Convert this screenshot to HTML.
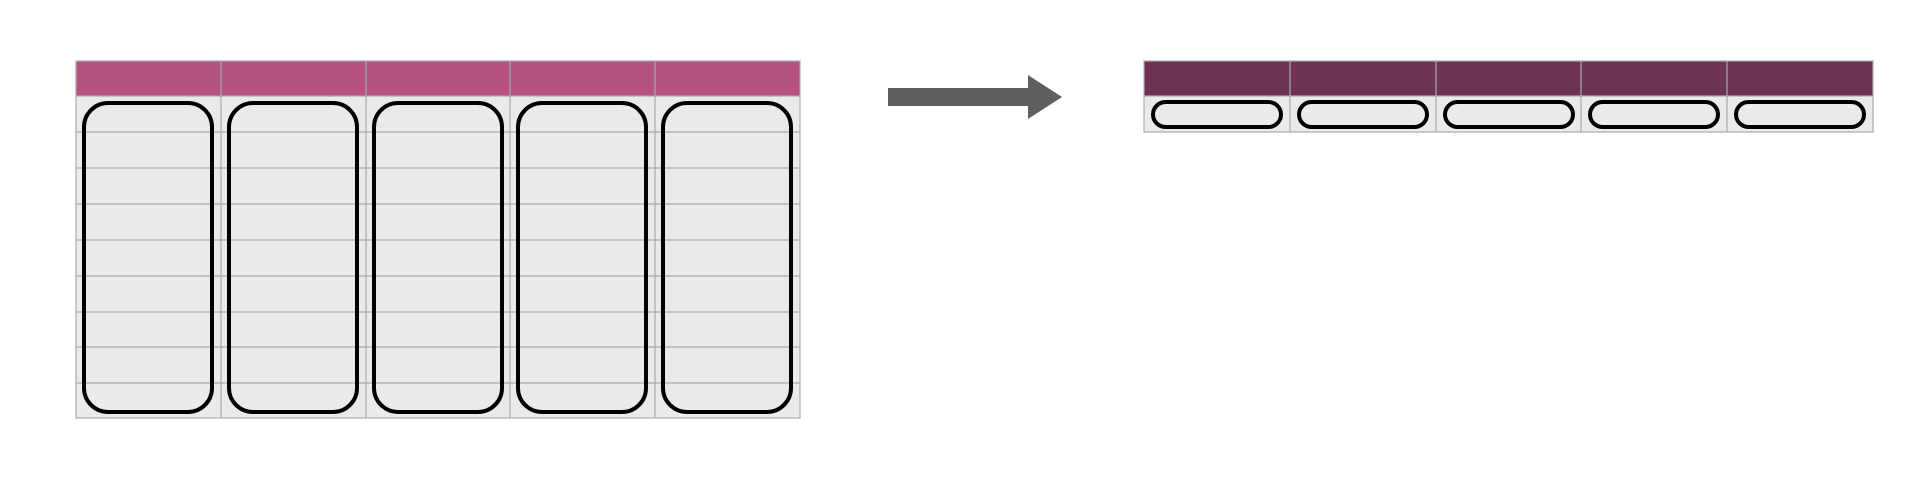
<!DOCTYPE html>
<html><head><meta charset="utf-8"><style>html,body{margin:0;padding:0;background:#fff}</style></head>
<body>
<svg width="1920" height="475" viewBox="0 0 1920 475" xmlns="http://www.w3.org/2000/svg">
<rect width="1920" height="475" fill="#fff"/>
<!-- left table -->
<rect x="76" y="96" width="724" height="322" fill="#eaeaea"/>
<rect x="76" y="61" width="724" height="35" fill="#b55083"/>
<g stroke="#aaa" stroke-width="1.2" fill="none">
<rect x="76" y="61" width="724" height="357"/>
<line x1="76" y1="96" x2="800" y2="96"/>
<line x1="76" y1="132" x2="800" y2="132"/>
<line x1="76" y1="168" x2="800" y2="168"/>
<line x1="76" y1="204" x2="800" y2="204"/>
<line x1="76" y1="240" x2="800" y2="240"/>
<line x1="76" y1="276" x2="800" y2="276"/>
<line x1="76" y1="312" x2="800" y2="312"/>
<line x1="76" y1="347" x2="800" y2="347"/>
<line x1="76" y1="383" x2="800" y2="383"/>
<line x1="221" y1="61" x2="221" y2="418"/>
<line x1="366" y1="61" x2="366" y2="418"/>
<line x1="510" y1="61" x2="510" y2="418"/>
<line x1="655" y1="61" x2="655" y2="418"/>
</g>
<g stroke="#000" stroke-width="4" fill="none">
<rect x="84" y="103" width="128" height="309" rx="24"/>
<rect x="229" y="103" width="128" height="309" rx="24"/>
<rect x="374" y="103" width="128" height="309" rx="24"/>
<rect x="518" y="103" width="128" height="309" rx="24"/>
<rect x="663" y="103" width="128" height="309" rx="24"/>
</g>
<!-- arrow -->
<rect x="888" y="88" width="141" height="18" fill="#5f5f5f"/>
<polygon points="1028,75 1062,97 1028,119" fill="#5f5f5f"/>
<!-- right table -->
<rect x="1144" y="96" width="729" height="36" fill="#eaeaea"/>
<rect x="1144" y="61" width="729" height="35" fill="#6d3256"/>
<g stroke="#aaa" stroke-width="1.2" fill="none">
<rect x="1144" y="61" width="729" height="71"/>
<line x1="1144" y1="96" x2="1873" y2="96"/>
<line x1="1290" y1="61" x2="1290" y2="132"/>
<line x1="1436" y1="61" x2="1436" y2="132"/>
<line x1="1581" y1="61" x2="1581" y2="132"/>
<line x1="1727" y1="61" x2="1727" y2="132"/>
</g>
<g stroke="#000" stroke-width="4" fill="none">
<rect x="1153" y="102" width="128" height="25" rx="12.5"/>
<rect x="1299" y="102" width="128" height="25" rx="12.5"/>
<rect x="1445" y="102" width="128" height="25" rx="12.5"/>
<rect x="1590" y="102" width="128" height="25" rx="12.5"/>
<rect x="1736" y="102" width="128" height="25" rx="12.5"/>
</g>
</svg>
</body></html>
